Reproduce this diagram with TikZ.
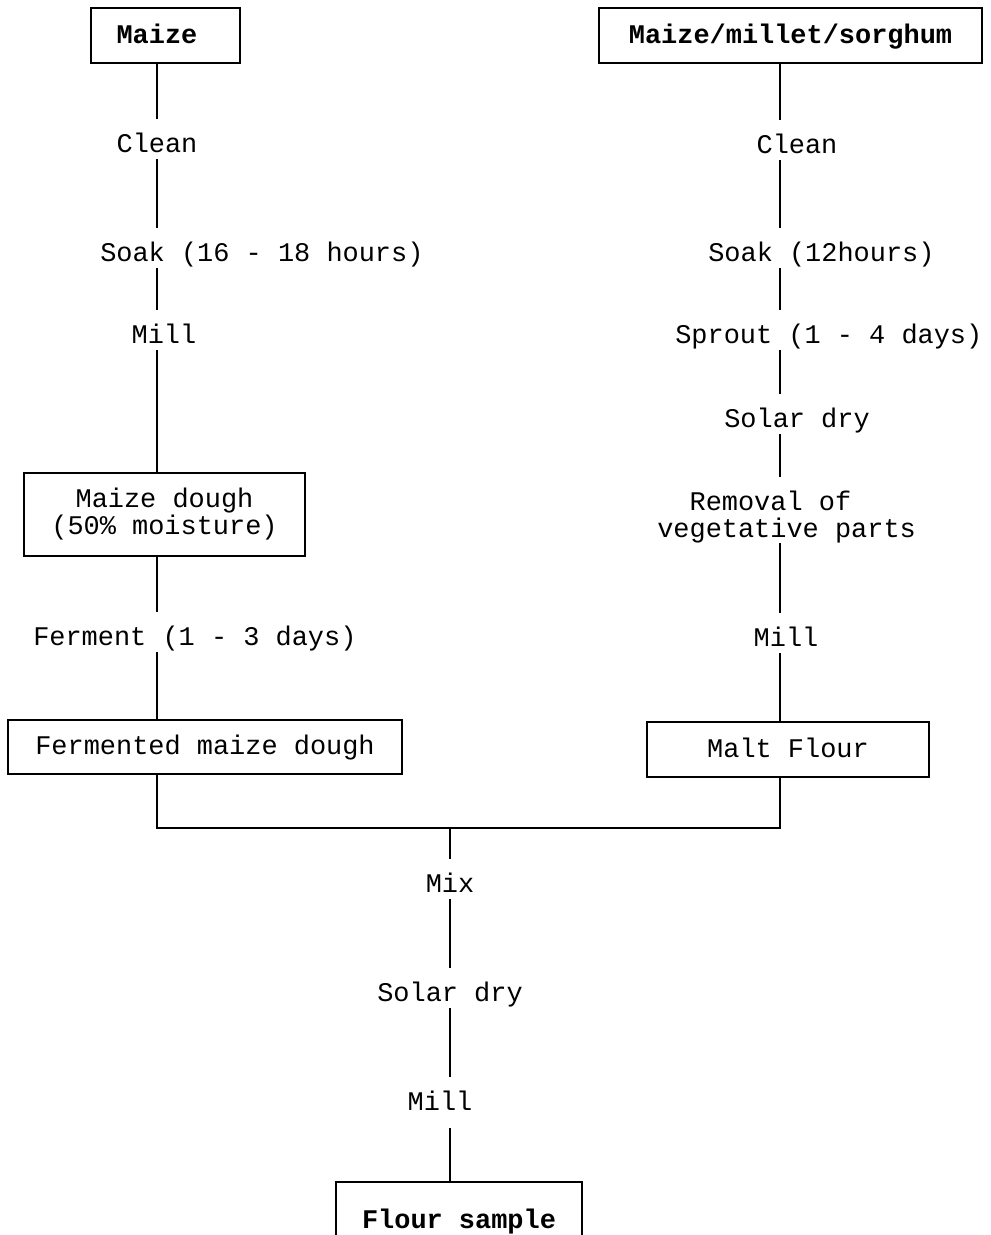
\documentclass[tikz,border=0pt]{standalone}
\usepackage{fontspec}
\newfontfamily\cour{Liberation Mono}
\begin{document}
\begin{tikzpicture}[x=0.75pt,y=-0.75pt,
  every node/.style={font=\cour\fontsize{20.2}{20.25}\selectfont},
  lbl/.style={inner sep=0pt,text height=24.75pt,text depth=5.25pt},
  mlbl/.style={inner sep=0pt,text height=45pt,align=left},
  box/.style={draw,line width=1.2pt,inner sep=0pt,text height=11.6pt,text depth=0pt},
  mbox/.style={draw,line width=1.2pt,inner sep=0pt,align=center},
  conn/.style={line width=1.2pt}]
\useasboundingbox (0,0) rectangle (991,1235);
\clip (0,0) rectangle (991,1235);
\fill[white] (0,0) rectangle (991,1235);
\coordinate (colL) at (157,0);
\coordinate (colR) at (780,0);
\coordinate (colC) at (450,0);
\coordinate (join) at (450,828);
% left column
\node[box,minimum width=111.75pt,minimum height=41.25pt,font=\cour\bfseries\fontsize{20.2}{20.25}\selectfont] (maize) at (165.5,35.5) {Maize\hspace*{12.8pt}};
\node[lbl,anchor=base] (clean1) at (157,152) {Clean};
\node[lbl,anchor=base west] (soak1) at (100,261) {Soak (16 - 18 hours)};
\node[lbl,anchor=base] (mill1) at (164,343) {Mill};
\node[mbox,minimum width=210.75pt,minimum height=62.25pt] (dough) at (164.5,514.5) {Maize dough\\(50\% moisture)};
\node[lbl,anchor=base west] (ferment) at (33,645) {Ferment (1 - 3 days)};
\node[box,minimum width=295.5pt,minimum height=40.5pt] (ferm) at (205,747) {Fermented maize dough};
% right column
\node[box,minimum width=287.25pt,minimum height=41.25pt,font=\cour\bfseries\fontsize{20.2}{20.25}\selectfont] (mms) at (790.5,35.5) {Maize/millet/sorghum};
\node[lbl,anchor=base] (clean2) at (797,153) {Clean};
\node[lbl,anchor=base west] (soak2) at (708,261) {Soak (12hours)};
\node[lbl,anchor=base west] (sprout) at (675,343) {Sprout (1 - 4 days)};
\node[lbl,anchor=base] (solar2) at (797,427) {Solar dry};
\node[mlbl,anchor=base west] (removal) at (657,537) {\phantom{ve}Removal of\\vegetative parts};
\node[lbl,anchor=base] (mill2) at (786,646) {Mill};
\node[box,minimum width=211.5pt,minimum height=41.25pt] (malt) at (788,749.5) {Malt Flour};
% centre column
\node[lbl,anchor=base] (mix) at (450,892) {Mix};
\node[lbl,anchor=base] (solar3) at (450,1001) {Solar dry};
\node[lbl,anchor=base] (mill3) at (440,1110) {Mill};
\node[box,minimum width=184.5pt,minimum height=58.5pt,font=\cour\bfseries\fontsize{20.2}{20.25}\selectfont] (flour) at (459,1221) {Flour sample};
% connectors left
\draw[conn] (maize.south -| colL) -- (clean1.north -| colL);
\draw[conn] (clean1.south -| colL) -- (soak1.north -| colL);
\draw[conn] (soak1.south -| colL) -- (mill1.north -| colL);
\draw[conn] (mill1.south -| colL) -- (dough.north -| colL);
\draw[conn] (dough.south -| colL) -- (ferment.north -| colL);
\draw[conn] (ferment.south -| colL) -- (ferm.north -| colL);
% connectors right
\draw[conn] (mms.south -| colR) -- (clean2.north -| colR);
\draw[conn] (clean2.south -| colR) -- (soak2.north -| colR);
\draw[conn] (soak2.south -| colR) -- (sprout.north -| colR);
\draw[conn] (sprout.south -| colR) -- (solar2.north -| colR);
\draw[conn] (solar2.south -| colR) -- (removal.north -| colR);
\draw[conn] (removal.south -| colR) -- (mill2.north -| colR);
\draw[conn] (mill2.south -| colR) -- (malt.north -| colR);
% joining
\draw[conn] (ferm.south -| colL) |- (join) -| (malt.south -| colR);
\draw[conn] (join) -- (mix.north -| colC);
\draw[conn] (mix.south -| colC) -- (solar3.north -| colC);
\draw[conn] (solar3.south -| colC) -- (mill3.north -| colC);
\draw[conn,shorten <=8pt] (mill3.south -| colC) -- (flour.north -| colC);
\end{tikzpicture}
\end{document}
